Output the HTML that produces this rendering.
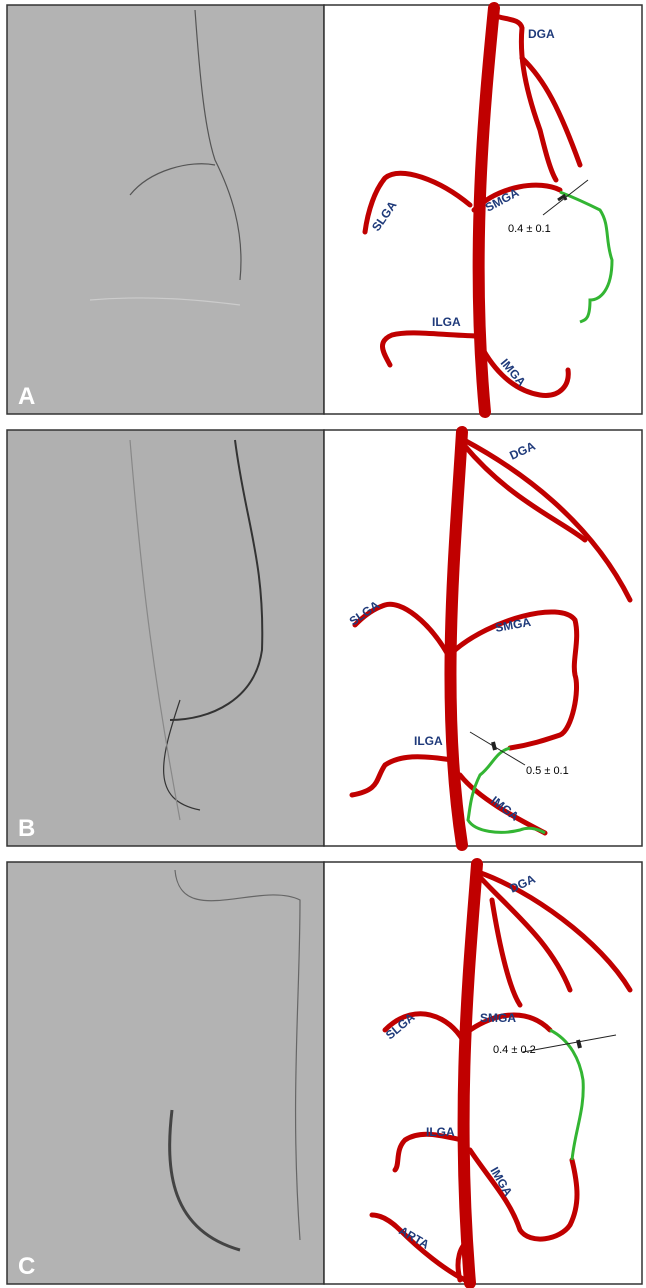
<!DOCTYPE html>
<html><head><meta charset="utf-8"><style>
body{margin:0;background:#fff;width:646px;height:1288px;overflow:hidden}
svg{display:block}
text{font-family:"Liberation Sans",sans-serif}
.l{fill:#1f3a7a;font-weight:bold;font-size:12px}
.v{fill:none;stroke:#c00000;stroke-linecap:round}
.g{fill:none;stroke:#33b533;stroke-width:3}
.d{fill:none;stroke:#222;stroke-width:1}
</style></head><body>
<svg width="646" height="1288" viewBox="0 0 646 1288">
<g stroke="#333" stroke-width="1.5">
<rect x="7" y="5" width="317" height="409" fill="#b3b3b3"/>
<rect x="324" y="5" width="318" height="409" fill="#fff"/>
<rect x="7" y="430" width="317" height="416" fill="#b0b0b0"/>
<rect x="324" y="430" width="318" height="416" fill="#fff"/>
<rect x="7" y="862" width="317" height="422" fill="#b3b3b3"/>
<rect x="324" y="862" width="318" height="422" fill="#fff"/>
</g>
<g fill="none" stroke="#555" stroke-width="1.2">
<path d="M195 10 C200 80 205 130 215 160 C230 190 245 230 240 280"/>
<path d="M130 195 C150 170 190 160 215 165"/>
<path d="M90 300 C150 295 200 300 240 305" stroke="#ccc"/>
<path d="M235 440 C245 520 265 560 262 650 C255 700 210 720 170 720" stroke="#333" stroke-width="2"/>
<path d="M180 700 C160 760 150 800 200 810" stroke="#333"/>
<path d="M130 440 C140 560 150 660 180 820" stroke="#888"/>
<path d="M175 870 C180 930 260 880 300 900 C300 1000 290 1100 300 1240" stroke="#666"/>
<path d="M172 1110 C165 1170 170 1230 240 1250" stroke="#444" stroke-width="3"/>
</g>
<g font-size="24" font-weight="bold" fill="#fff">
<text x="18" y="404">A</text><text x="18" y="836">B</text><text x="18" y="1274">C</text>
</g>
<!-- Panel A -->
<path class="v" stroke-width="12" d="M494 8 C485 100 470 250 485 412" stroke-linecap="butt"/>
<g class="v" stroke-width="5">
<path d="M493 15 C505 20 520 18 522 28 C520 50 522 80 540 130 C545 150 550 170 556 180"/>
<path d="M522 58 C545 80 560 110 580 165"/>
<path d="M470 205 C440 180 400 165 385 178 C375 190 368 210 365 232"/>
<path d="M474 210 C500 185 540 180 560 190"/>
<path d="M478 336 C440 335 410 330 392 335 C375 342 385 355 390 365"/>
<path d="M478 340 C490 365 510 390 540 395 C560 398 570 385 568 370"/>
</g>
<path class="g" d="M560 192 C580 200 590 205 600 210 C610 225 605 240 612 260 C612 290 600 300 590 300 C590 320 585 320 580 322"/>
<path class="d" d="M543 215 L588 180"/><path d="M558 200 l6 -4 l2 4" stroke="#222" stroke-width="3" fill="none"/>
<text x="508" y="232" font-size="11">0.4 ± 0.1</text>
<text class="l" x="528" y="38">DGA</text>
<text class="l" transform="translate(378 232) rotate(-55)">SLGA</text>
<text class="l" transform="translate(488 212) rotate(-28)">SMGA</text>
<text class="l" x="432" y="326">ILGA</text>
<text class="l" transform="translate(500 363) rotate(50)">IMGA</text>
<!-- Panel B -->
<path class="v" stroke-width="12" d="M462 432 C455 550 440 700 462 845" stroke-linecap="butt"/>
<g class="v" stroke-width="5">
<path d="M464 445 C510 500 560 520 585 540"/>
<path d="M464 440 C520 470 590 520 630 600"/>
<path d="M452 662 C430 620 400 600 385 605 C370 610 360 620 355 625"/>
<path d="M455 650 C490 620 560 600 575 620 C580 640 572 660 575 675 C580 690 572 730 560 735 C545 740 530 745 510 748"/>
<path d="M452 760 C420 755 400 755 385 765 C375 780 380 790 352 795"/>
<path d="M460 775 C480 800 520 820 545 833"/>
</g>
<path class="g" d="M510 748 C495 752 493 765 480 775 C470 795 470 810 468 820 C475 832 500 835 520 830 C530 826 540 830 545 833"/>
<path class="d" d="M470 732 L525 765"/><path d="M493 742 l2 8" stroke="#222" stroke-width="4"/>
<text x="526" y="774" font-size="11">0.5 ± 0.1</text>
<text class="l" transform="translate(512 460) rotate(-25)">DGA</text>
<text class="l" transform="translate(353 626) rotate(-35)">SLGA</text>
<text class="l" transform="translate(496 632) rotate(-10)">SMGA</text>
<text class="l" x="414" y="745">ILGA</text>
<text class="l" transform="translate(490 802) rotate(38)">IMGA</text>
<!-- Panel C -->
<path class="v" stroke-width="12" d="M477 864 C470 960 455 1100 470 1283" stroke-linecap="butt"/>
<g class="v" stroke-width="5">
<path d="M478 875 C510 910 550 940 570 990"/>
<path d="M478 872 C530 890 600 940 630 990"/>
<path d="M492 900 C500 950 510 990 520 1005"/>
<path d="M468 1050 C455 1020 430 1010 410 1015 C398 1018 390 1025 385 1030"/>
<path d="M470 1030 C500 1010 530 1010 550 1030"/>
<path d="M462 1140 C440 1135 420 1130 405 1140 C395 1150 400 1165 395 1170"/>
<path d="M470 1150 C490 1180 510 1200 520 1230 C530 1245 560 1240 570 1225 C580 1205 578 1185 572 1160"/>
<path d="M465 1280 C445 1270 420 1250 400 1230 C390 1220 380 1215 372 1215"/>
<path d="M460 1280 C455 1260 460 1245 470 1240"/>
</g>
<path class="g" d="M550 1030 C570 1040 580 1060 583 1080 C585 1110 575 1130 572 1160"/>
<path class="d" d="M523 1052 L616 1035"/><path d="M578 1040 l2 8" stroke="#222" stroke-width="4"/>
<text x="493" y="1053" font-size="11">0.4 ± 0.2</text>
<text class="l" transform="translate(512 893) rotate(-25)">DGA</text>
<text class="l" x="480" y="1022">SMGA</text>
<text class="l" transform="translate(390 1040) rotate(-40)">SLGA</text>
<text class="l" x="426" y="1136">ILGA</text>
<text class="l" transform="translate(490 1170) rotate(60)">IMGA</text>
<text class="l" transform="translate(398 1233) rotate(30)">ARTA</text>
</svg>
</body></html>
